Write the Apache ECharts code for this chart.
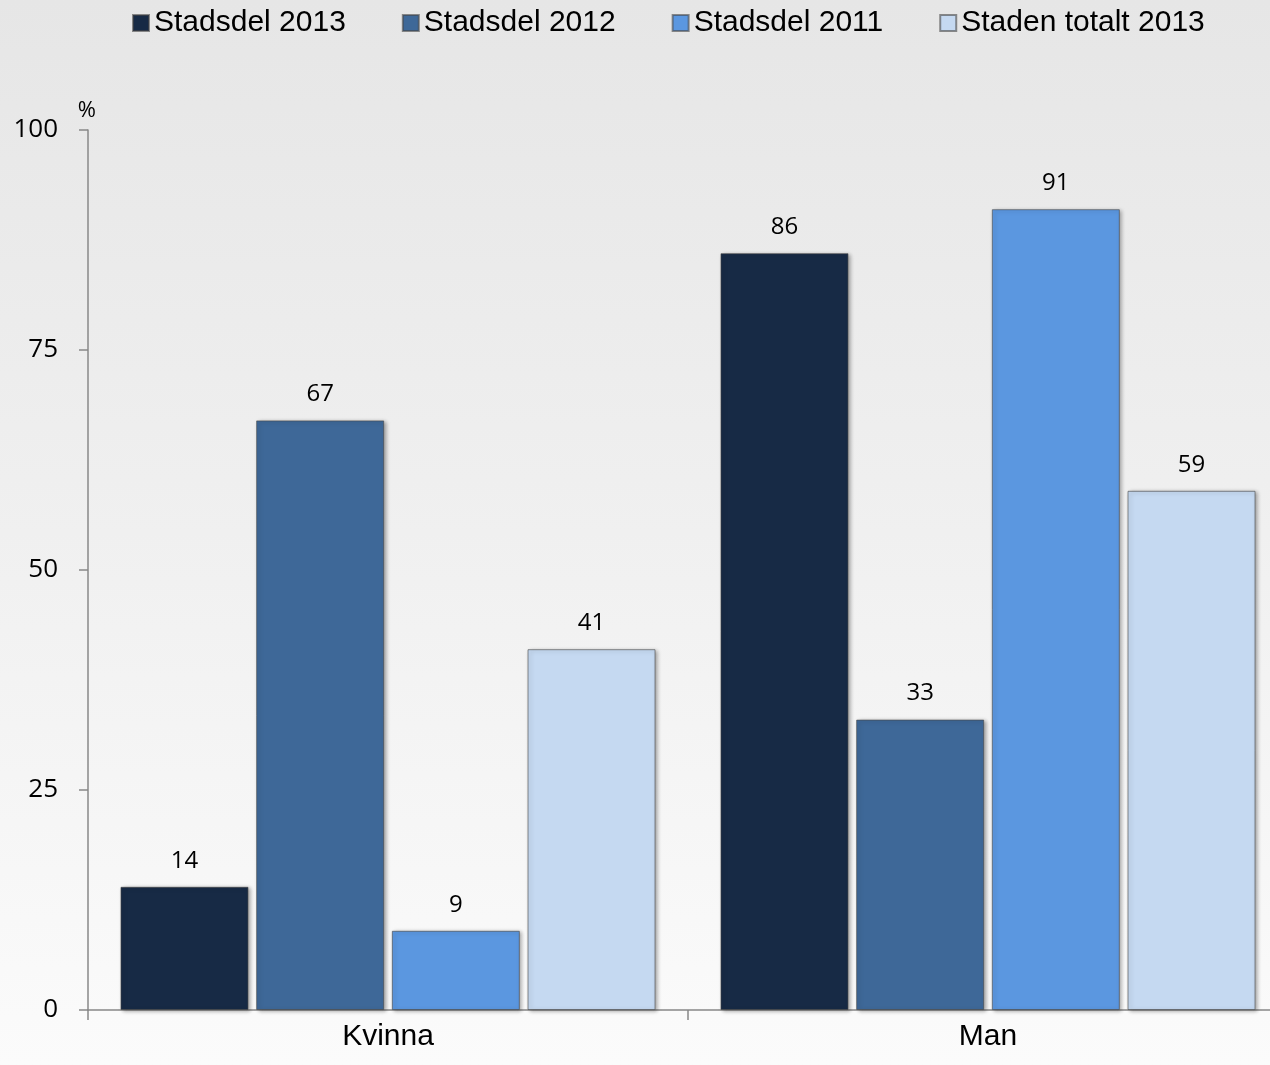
<!DOCTYPE html>
<html><head><meta charset="utf-8">
<script src="https://cdn.jsdelivr.net/npm/echarts@6/dist/echarts.min.js"></script>
<style>
html,body{margin:0;padding:0;width:1270px;height:1065px;overflow:hidden;
background:linear-gradient(to bottom,#e6e6e6 0%,#f0f0f0 50%,#fbfbfb 100%);}
#c{width:1270px;height:1065px;}
</style></head>
<body><div id="c"></div>
<script>
const categories = ['Kvinna', 'Man'];
const seriesNames = ['Stadsdel 2013', 'Stadsdel 2012', 'Stadsdel 2011', 'Staden totalt 2013'];
const stadsdel2013 = [14, 86];
const stadsdel2012 = [67, 33];
const stadsdel2011 = [9, 91];
const stadenTotalt2013 = [41, 59];
const yTicks = [0, 25, 50, 75, 100];
const colors = ['#172a45', '#3e6898', '#5b97e0', '#c5d9f1'];
const allValues = [stadsdel2013, stadsdel2012, stadsdel2011, stadenTotalt2013];

const chart = echarts.init(document.getElementById('c'), null, {renderer: 'canvas'});
const series = seriesNames.map((n, i) => ({
  name: n, type: 'bar', data: allValues[i],
  barWidth: 128, barGap: '6%',
  itemStyle: {
    color: colors[i],
    borderColor: 'rgba(70,70,70,0.6)', borderWidth: 1,
    shadowColor: 'rgba(0,0,0,0.35)', shadowBlur: 4, shadowOffsetX: 2, shadowOffsetY: 1
  },
  label: {show: true, position: 'top', distance: 14, color: '#000',
    fontFamily: 'Open Sans', fontSize: 24}
}));
chart.setOption({
  backgroundColor: 'transparent',
  animation: false,
  color: colors,
  legend: {
    left: 127, top: 3, itemWidth: 16, itemHeight: 16, itemGap: 56,
    icon: 'rect',
    textStyle: {fontFamily: 'Liberation Sans', fontSize: 30, color: '#000'},
    data: seriesNames
  },
  grid: {left: 88, width: 1200, top: 130, bottom: 55, containLabel: false, outerBoundsMode: 'none'},
  xAxis: {
    type: 'category', data: categories,
    axisLine: {lineStyle: {color: '#888', width: 1.5}},
    axisTick: {show: true, length: 10, lineStyle: {color: '#888', width: 1.5}},
    axisLabel: {fontFamily: 'Liberation Sans', fontSize: 30, color: '#000', margin: 12}
  },
  yAxis: {
    type: 'value', min: 0, max: 100, interval: 25,
    name: '%', nameLocation: 'end', nameGap: 8,
    nameTextStyle: {fontFamily: 'Open Sans', fontSize: 22, color: '#000', align: 'right', padding: [0, -8, 0, 0]},
    axisLine: {show: true, lineStyle: {color: '#888', width: 1.5}},
    axisTick: {show: true, length: 9, lineStyle: {color: '#888', width: 1.5}},
    splitLine: {show: false},
    axisLabel: {fontFamily: 'Open Sans', fontSize: 26, color: '#000', margin: 30,
      formatter: v => yTicks.includes(v) ? String(v) : ''}
  },
  series: series
});
</script></body></html>
